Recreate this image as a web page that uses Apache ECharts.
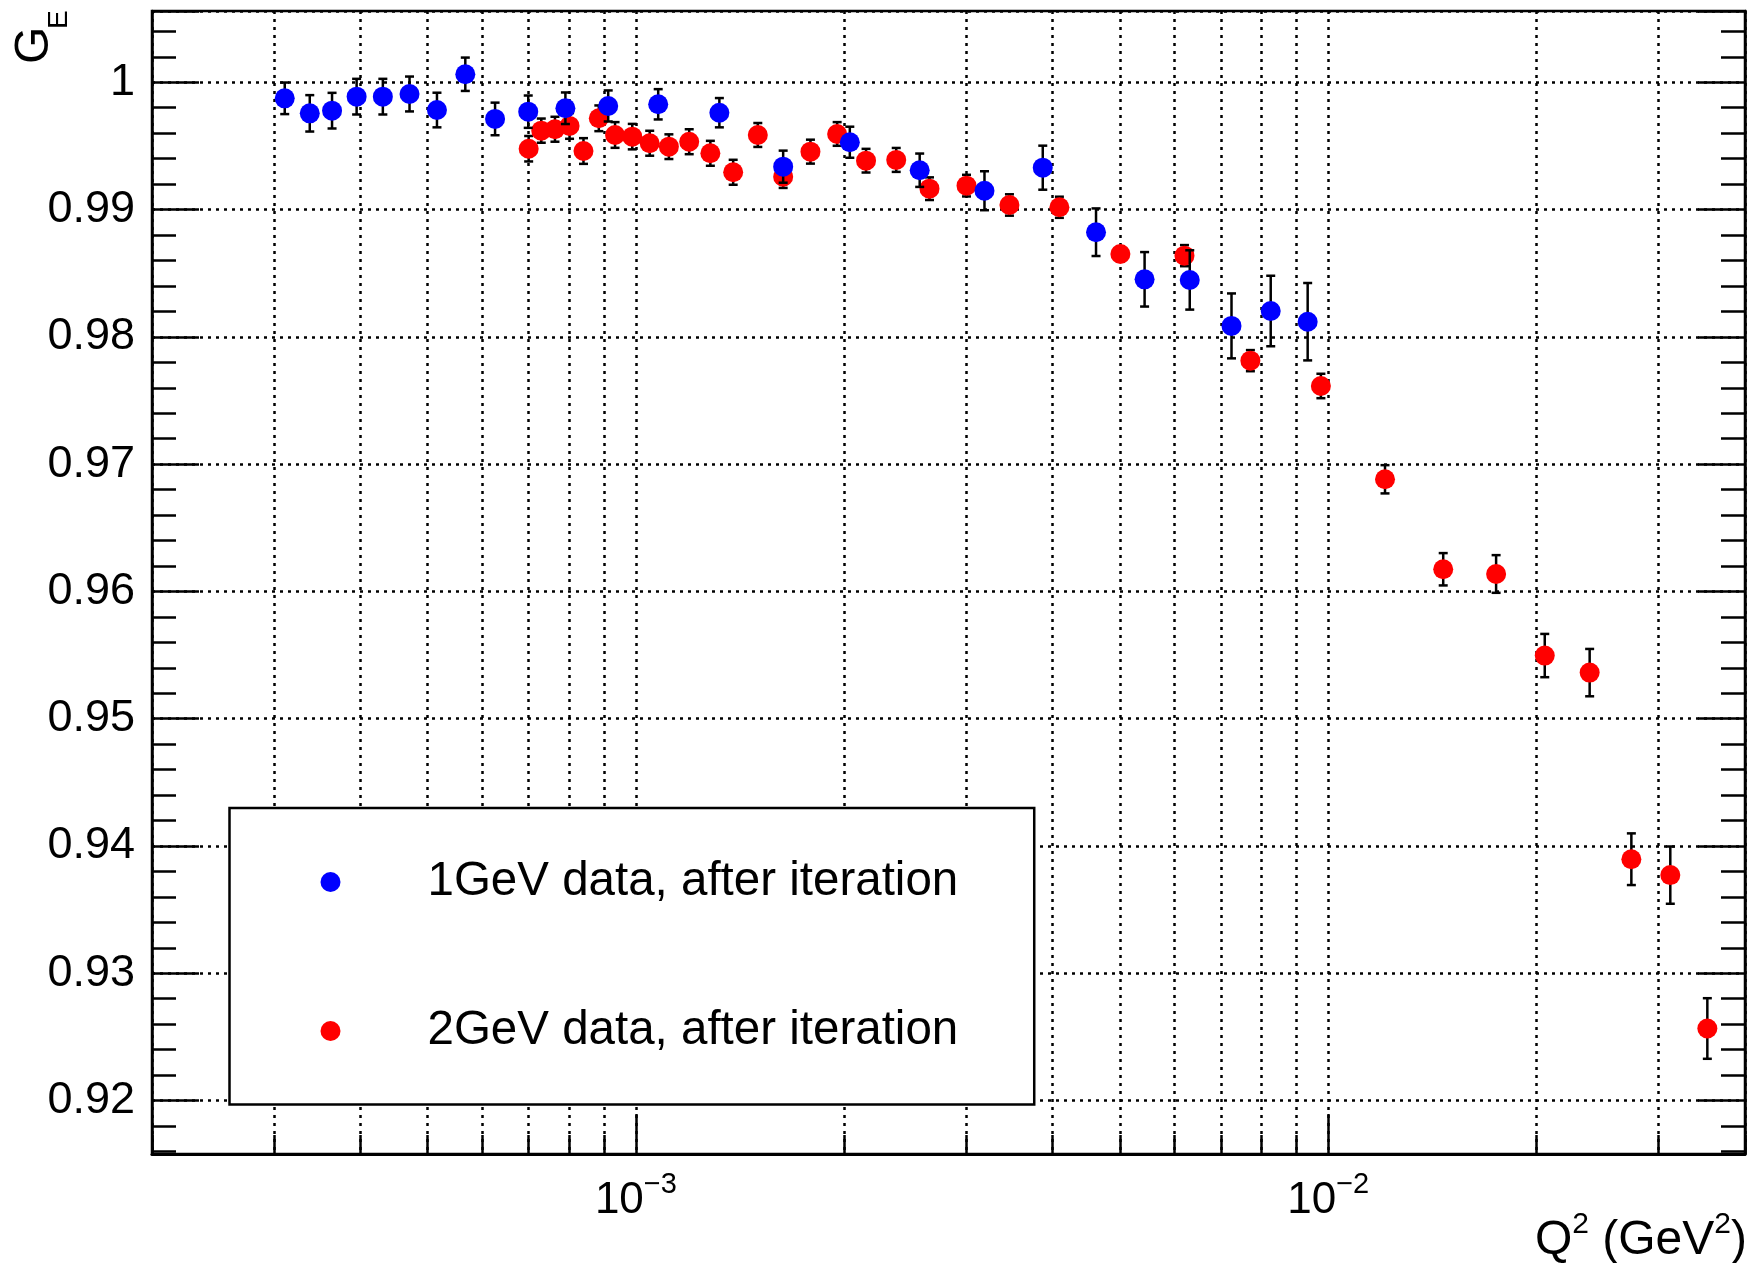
<!DOCTYPE html>
<html>
<head>
<meta charset="utf-8">
<script src="https://cdn.jsdelivr.net/npm/echarts@6/dist/echarts.min.js"></script>
<style>
html, body { margin: 0; padding: 0; background: #ffffff; }
#chart { width: 1754px; height: 1263px; }
</style>
</head>
<body>
<div id="chart"></div>
<script>
// ---- data ----
const seriesNames = ['1GeV data, after iteration', '2GeV data, after iteration'];

const q2_1GeV = [3.11e-4, 3.38e-4, 3.64e-4, 3.95e-4, 4.31e-4, 4.71e-4, 5.16e-4, 5.67e-4, 6.26e-4, 6.99e-4,
                 7.91e-4, 9.12e-4, 1.077e-3, 1.32e-3, 1.632e-3, 2.037e-3, 2.57e-3, 3.188e-3, 3.87e-3, 4.62e-3,
                 5.43e-3, 6.31e-3, 7.25e-3, 8.26e-3, 9.34e-3];
const ge_1GeV = [0.99874, 0.99756, 0.99777, 0.99887, 0.99887, 0.99908, 0.99782, 1.00063, 0.99712, 0.99769,
                 0.99796, 0.99814, 0.99827, 0.99761, 0.99337, 0.99529, 0.99309, 0.99148, 0.99329, 0.98822,
                 0.98452, 0.98447, 0.98086, 0.98203, 0.98119];
const err_1GeV = [0.00124, 0.00143, 0.00140, 0.00140, 0.00140, 0.00137, 0.00136, 0.00131, 0.00128, 0.00127,
                  0.00124, 0.00122, 0.00119, 0.00115, 0.00126, 0.00122, 0.00131, 0.00153, 0.00173, 0.00187,
                  0.00214, 0.00233, 0.00255, 0.00277, 0.00304];

const q2_2GeV = [7.0e-4, 7.3e-4, 7.64e-4, 8.02e-4, 8.4e-4, 8.84e-4, 9.33e-4, 9.88e-4, 1.047e-3, 1.116e-3,
                 1.194e-3, 1.281e-3, 1.382e-3, 1.5e-3, 1.632e-3, 1.787e-3, 1.953e-3, 2.15e-3, 2.377e-3, 2.655e-3,
                 3.003e-3, 3.464e-3, 4.09e-3, 5.01e-3, 6.2e-3, 7.72e-3, 9.76e-3, 0.01208, 0.01466, 0.01748,
                 0.02055, 0.02386, 0.02741, 0.0312, 0.03529];
const ge_2GeV = [0.99478, 0.99620, 0.99631, 0.99657, 0.99460, 0.99717, 0.99586, 0.99573, 0.99521, 0.99494,
                 0.99533, 0.99442, 0.99293, 0.99586, 0.99258, 0.99455, 0.99594, 0.99384, 0.99390, 0.99164,
                 0.99188, 0.99036, 0.99018, 0.98651, 0.98638, 0.97813, 0.97614, 0.96881, 0.96174, 0.96137,
                 0.95496, 0.95362, 0.93896, 0.93771, 0.92566];
const err_2GeV = [0.00100, 0.00095, 0.00098, 0.00101, 0.00101, 0.00101, 0.00101, 0.00100, 0.00098, 0.00097,
                  0.00098, 0.00098, 0.00098, 0.00094, 0.00088, 0.00094, 0.00093, 0.00093, 0.00094, 0.00089,
                  0.00085, 0.00084, 0.00083, 0.00060, 0.00083, 0.00083, 0.00096, 0.00111, 0.00127, 0.00148,
                  0.00170, 0.00186, 0.00203, 0.00225, 0.00238];

// axis ranges and ticks
const xMin = 2e-4, xMax = 4e-2;
const yMin = 0.9158, yMax = 1.0056;
const xMajorTicks = [1e-3, 1e-2];
const xGridTicks = [2e-4, 3e-4, 4e-4, 5e-4, 6e-4, 7e-4, 8e-4, 9e-4, 1e-3,
                    2e-3, 3e-3, 4e-3, 5e-3, 6e-3, 7e-3, 8e-3, 9e-3, 1e-2,
                    2e-2, 3e-2, 4e-2];
const xTitle = '{t|Q}{s|2}{t| (GeV}{s|2}{t|)}';
const yTitleMain = 'G';
const yTitleSub = 'E';

const FONT = 'Liberation Sans, Arial, Helvetica, sans-serif';

function errRender(params, api) {
  const x = api.value(0), y = api.value(1), e = api.value(2);
  const top = api.coord([x, y + e]);
  const bot = api.coord([x, y - e]);
  const hw = 4.5;
  const style = { stroke: '#000', lineWidth: 2.5, fill: null };
  return {
    type: 'group',
    children: [
      { type: 'line', shape: { x1: top[0], y1: top[1], x2: bot[0], y2: bot[1] }, style: style },
      { type: 'line', shape: { x1: top[0] - hw, y1: top[1], x2: top[0] + hw, y2: top[1] }, style: style },
      { type: 'line', shape: { x1: bot[0] - hw, y1: bot[1], x2: bot[0] + hw, y2: bot[1] }, style: style }
    ]
  };
}

const chart = echarts.init(document.getElementById('chart'), null, { renderer: 'canvas' });

const gridLine = { show: true, lineStyle: { color: '#000', width: 2.5, type: [3, 5] } };

const yAxisCommon = {
  type: 'value',
  min: yMin, max: yMax,
  splitNumber: 9, minInterval: 0.01, maxInterval: 0.01,
  axisLine: { show: true, lineStyle: { color: '#000', width: 2.5 } },
  axisTick: { show: true, inside: true, length: 47, lineStyle: { color: '#000', width: 2.5 } },
  minorTick: { show: true, splitNumber: 5, length: 24, lineStyle: { color: '#000', width: 2.5 } }
};

const option = {
  animation: false,
  backgroundColor: '#ffffff',
  grid: {
    left: 152, right: 9, top: 11, bottom: 109,
    show: true, borderColor: '#000', borderWidth: 2.5, backgroundColor: 'transparent'
  },
  xAxis: [
    {
      type: 'log', logBase: 10, min: xMin, max: xMax, position: 'bottom',
      axisLine: { show: true, onZero: false, lineStyle: { color: '#000', width: 3 } },
      axisTick: { show: true, inside: true, length: 19, customValues: xGridTicks, lineStyle: { color: '#000', width: 2.5 } },
      axisLabel: { show: false },
      minorTick: { show: false },
      splitLine: gridLine
    },
    {
      type: 'log', logBase: 10, min: xMin, max: xMax, position: 'bottom', offset: 0,
      axisLine: { show: false, onZero: false },
      axisTick: { show: true, inside: true, length: 40, customValues: xMajorTicks, lineStyle: { color: '#000', width: 2.5 } },
      axisLabel: {
        show: true, customValues: xMajorTicks, margin: 16,
        formatter: function (v) {
          const ex = Math.round(Math.log10(v));
          return '{b|10}{s|\u2212' + (-ex) + '}';
        },
        rich: {
          b: { fontSize: 44, fontFamily: FONT, color: '#000', lineHeight: 62 },
          s: { fontSize: 29, fontFamily: FONT, color: '#000', lineHeight: 28, verticalAlign: 'top' }
        }
      },
      minorTick: { show: false },
      splitLine: { show: false }
    }
  ],
  yAxis: [
    Object.assign({}, yAxisCommon, {
      position: 'left',
      axisLabel: {
        show: true, margin: 17, fontSize: 45, fontFamily: FONT, color: '#000',
        showMinLabel: false, showMaxLabel: false,
        formatter: function (v) { return String(Math.round(v * 100) / 100); }
      },
      splitLine: gridLine
    }),
    Object.assign({}, yAxisCommon, {
      position: 'right',
      axisLabel: { show: false },
      splitLine: { show: false }
    })
  ],
  legend: {
    show: true,
    data: seriesNames,
    orient: 'vertical',
    left: 229.5, top: 808,
    padding: [49, 76, 48.5, 91],
    itemGap: 99,
    itemWidth: 20, itemHeight: 20,
    backgroundColor: '#ffffff',
    borderColor: '#000', borderWidth: 2.5, borderRadius: 0,
    selectedMode: false,
    textStyle: { fontSize: 47.5, fontFamily: FONT, color: '#000', lineHeight: 50, padding: [0, 0, 0, 82] },
    z: 10
  },
  graphic: [
    {
      type: 'text', x: 1747, y: 1210, z: 10,
      style: {
        text: xTitle, align: 'right', verticalAlign: 'top',
        rich: {
          t: { fontSize: 48, fontFamily: FONT, fill: '#000', lineHeight: 62 },
          s: { fontSize: 30, fontFamily: FONT, fill: '#000', lineHeight: 28, verticalAlign: 'top' }
        }
      }
    },
    {
      type: 'text', x: 35, y: 64, rotation: Math.PI / 2, z: 10,
      style: { text: yTitleMain, fontSize: 48, fontFamily: FONT, fill: '#000', align: 'left', verticalAlign: 'middle' }
    },
    {
      type: 'text', x: 59, y: 29, rotation: Math.PI / 2, z: 10,
      style: { text: yTitleSub, fontSize: 28, fontFamily: FONT, fill: '#000', align: 'left', verticalAlign: 'middle' }
    }
  ],
  series: [
    {
      name: 'err2', type: 'custom', renderItem: errRender, z: 2,
      xAxisIndex: 0, yAxisIndex: 0, encode: { x: 0, y: 1 },
      data: q2_2GeV.map(function (q, i) { return [q, ge_2GeV[i], err_2GeV[i]]; })
    },
    {
      name: seriesNames[1], type: 'scatter', z: 3,
      xAxisIndex: 0, yAxisIndex: 0,
      symbol: 'circle', symbolSize: 20,
      itemStyle: { color: '#ff0000', opacity: 1 },
      emphasis: { disabled: true },
      data: q2_2GeV.map(function (q, i) { return [q, ge_2GeV[i]]; })
    },
    {
      name: 'err1', type: 'custom', renderItem: errRender, z: 4,
      xAxisIndex: 0, yAxisIndex: 0, encode: { x: 0, y: 1 },
      data: q2_1GeV.map(function (q, i) { return [q, ge_1GeV[i], err_1GeV[i]]; })
    },
    {
      name: seriesNames[0], type: 'scatter', z: 5,
      xAxisIndex: 0, yAxisIndex: 0,
      symbol: 'circle', symbolSize: 20,
      itemStyle: { color: '#0000ff', opacity: 1 },
      emphasis: { disabled: true },
      data: q2_1GeV.map(function (q, i) { return [q, ge_1GeV[i]]; })
    }
  ]
};

chart.setOption(option);
</script>
</body>
</html>
